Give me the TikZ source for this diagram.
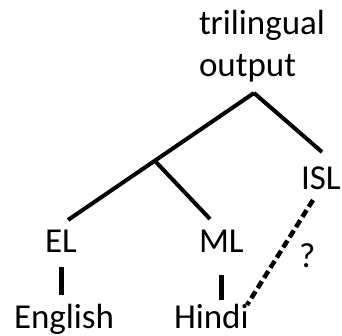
\documentclass[tikz,border=0pt]{standalone}
\usepackage{fontspec}
\setmainfont{Carlito}
\usepackage{tikz}

\begin{document}
\begin{tikzpicture}[x=1pt,y=-1pt,line width=4pt,word/.style={anchor=base west,inner sep=0pt,font=\fontsize{35}{42}\selectfont},bar/.style={line width=5pt},guess/.style={line width=4.5pt,dash pattern=on 8pt off 4pt}]
	\useasboundingbox (0,0) rectangle (342,336);
	\node at (197,77) [word,align=left] (top) {trilingual\\output};
	\node at (43,253) [word] (el) {EL};
	\node at (197,253) [word] (ml) {ML};
	\node at (299,190) [word] (isl) {ISL};
	\node at (12,328) [word] (eng) {English};
	\node at (172,328) [word] (hin) {Hindi};
	\node at (297,267) [word] (q) {?};
	\coordinate (apex) at (254,93);
	\coordinate (elend) at (68,220);
	\coordinate (islend) at (322,152);
	\coordinate (fork) at (155,161);
	\coordinate (mlend) at (210,219);
	\coordinate (elbar) at (61,267);
	\coordinate (engbar) at (61,295);
	\coordinate (mlbar) at (221,275);
	\coordinate (hinbar) at (221,300);
	\coordinate (islfoot) at (313,200);
	\coordinate (hinfoot) at (247,305);
	\draw (apex) to (elend);
	\draw (apex) to (islend);
	\draw (fork) to (mlend);
	\draw [bar] (elbar) to (engbar);
	\draw [bar] (mlbar) to (hinbar);
	\draw [guess] (islfoot) to (hinfoot);
\end{tikzpicture}
\end{document}
